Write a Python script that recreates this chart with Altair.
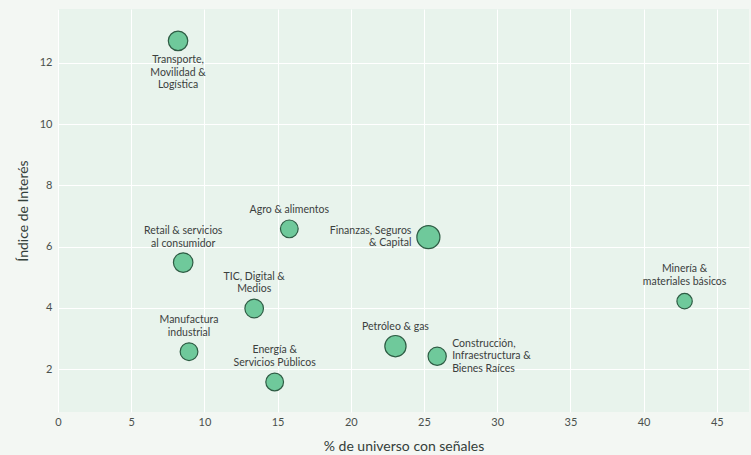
import altair as alt
import pandas as pd

# Sector bubble chart: share of universe with signals vs. interest index
sectores = [
    "Transporte,\nMovilidad &\nLogística",
    "Agro & alimentos",
    "Finanzas, Seguros\n& Capital",
    "Retail & servicios\nal consumidor",
    "TIC, Digital &\nMedios",
    "Minería &\nmateriales básicos",
    "Manufactura\nindustrial",
    "Petróleo & gas",
    "Construcción,\nInfraestructura &\nBienes Raíces",
    "Energía &\nServicios Públicos",
]
pct_universo = [8.2, 15.8, 25.3, 8.55, 13.4, 42.8, 8.95, 23.05, 25.9, 14.8]
indice_interes = [12.72, 6.58, 6.31, 5.48, 3.98, 4.22, 2.57, 2.75, 2.42, 1.58]
volumen = [121, 100, 169, 121, 110, 75, 100, 144, 106, 100]
posicion = [
    "abajo", "arriba", "izquierda", "arriba", "arriba",
    "arriba", "arriba", "arriba", "derecha", "arriba",
]

df = pd.DataFrame({
    "sector": sectores,
    "pct": pct_universo,
    "indice": indice_interes,
    "volumen": volumen,
    "posicion": posicion,
})

FONT = "Lato"
TEXT_COLOR = "#3b403d"
LINE_H = 12.7

x_enc = alt.X(
    "pct:Q",
    title="% de universo con señales",
    scale=alt.Scale(domain=[0, 47.2], nice=False, zero=False),
    axis=alt.Axis(values=list(range(0, 50, 5)), labelPadding=4, titlePadding=12,
                  labelFlush=False),
)
y_enc = alt.Y(
    "indice:Q",
    title="Índice de Interés",
    scale=alt.Scale(domain=[0.6, 13.76], nice=False, zero=False),
    axis=alt.Axis(values=[2, 4, 6, 8, 10, 12], labelPadding=6, titlePadding=9,
                  labelFlush=False),
)

base = alt.Chart(df).transform_calculate(
    lineas="length(split(datum.sector, '\\n'))"
).encode(x=x_enc, y=y_enc)

burbujas = base.mark_circle(
    color="#6fc99b", opacity=1, stroke="#2e5c44", strokeWidth=1.2
).encode(
    size=alt.Size(
        "volumen:Q",
        scale=alt.Scale(domain=[0, 169], range=[0, 531]),
        legend=None,
    )
)


def etiquetas(pos, n, **kw):
    """Text labels for one placement and one line count."""
    return base.transform_filter(
        (alt.datum.posicion == pos) & (alt.datum.lineas == n)
    ).mark_text(
        font=FONT, fontSize=10.5, color=TEXT_COLOR, lineBreak="\n",
        lineHeight=LINE_H, **kw
    ).encode(text="sector:N")


capas = [burbujas]
for n in (1, 2, 3):
    # labels above: last line sits just over the bubble
    capas.append(etiquetas("arriba", n, baseline="bottom", align="center",
                           dy=-14 - (n - 1) * LINE_H))
    # labels below: first line sits just under the bubble
    capas.append(etiquetas("abajo", n, baseline="top", align="center", dy=14))
    # side labels: block centred on the bubble
    capas.append(etiquetas("izquierda", n, baseline="middle", align="right",
                           dx=-17, dy=-(n - 1) * LINE_H / 2))
    capas.append(etiquetas("derecha", n, baseline="middle", align="left",
                           dx=15, dy=-(n - 1) * LINE_H / 2))

chart = (
    alt.layer(*capas)
    .properties(
        width=691,
        height=403,
        autosize=alt.AutoSizeParams(type="none"),
        padding={"left": 58, "top": 9, "right": 2, "bottom": 43},
        background="#f3f7f3",
    )
    .configure_view(fill="#e8f3ec", stroke=None)
    .configure_axis(
        grid=True,
        gridColor="#ffffff",
        gridWidth=1,
        domain=False,
        ticks=False,
        labelFont=FONT,
        labelFontSize=11,
        labelColor="#4a504c",
        titleFont=FONT,
        titleFontSize=14,
        titleFontWeight="normal",
        titleColor="#33403a",
    )
)

chart.save("out.html", embed_options={"renderer": "svg", "actions": False})
